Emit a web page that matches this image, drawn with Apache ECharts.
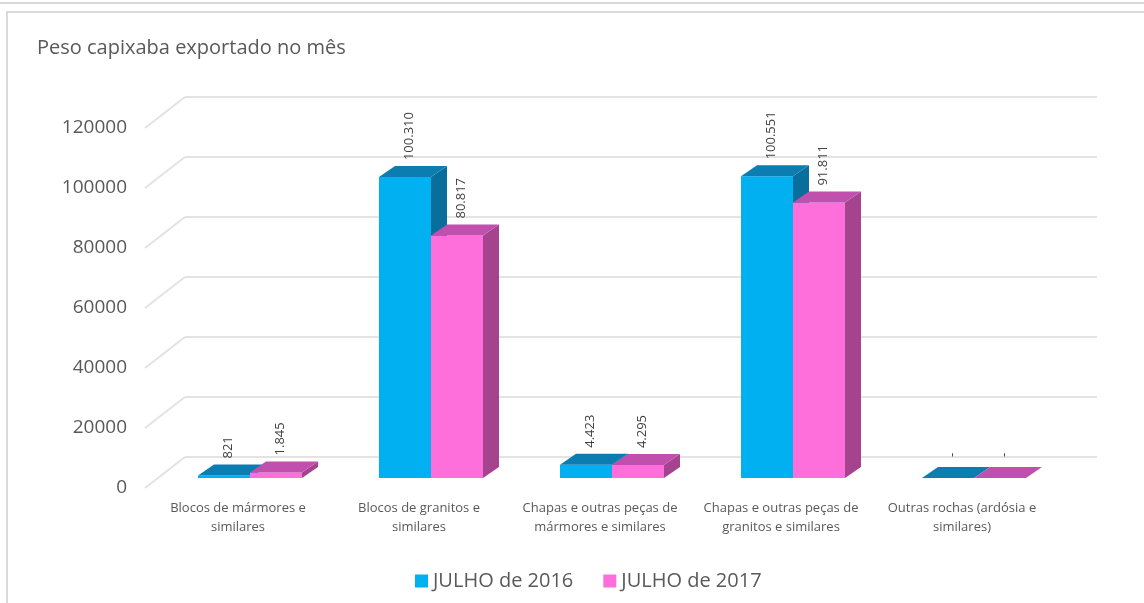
<!DOCTYPE html>
<html>
<head>
<meta charset="utf-8">
<script src="https://cdn.jsdelivr.net/npm/echarts@6/dist/echarts.min.js"></script>
<style>
  html, body { margin: 0; padding: 0; background: #fff; }
  #chart { width: 1144px; height: 603px; }
</style>
</head>
<body>
<div id="chart"></div>
<script>
// dados
const categories = [
  'Blocos de mármores e\nsimilares',
  'Blocos de granitos e\nsimilares',
  'Chapas e outras peças de\nmármores e similares',
  'Chapas e outras peças de\ngranitos e similares',
  'Outras rochas (ardósia e\nsimilares)'
]
const seriesNames = ['JULHO de 2016', 'JULHO de 2017']
const julho2016 = [821, 100310, 4423, 100551, 0]
const julho2017 = [1845, 80817, 4295, 91811, 0]
const yMax = 120000
const yStep = 20000
const yTicks = [0, 20000, 40000, 60000, 80000, 100000, 120000]

// cores
const frontColors = ['#00B0F0', '#FF6FDC']
const topColors = ['#0B7DB1', '#C04FAE']
const sideColors = ['#096E9C', '#A5438F']

const FONT = "'Open Sans', 'Noto Sans', sans-serif"
const BAR_RATIO = 52 / 181
const DX = 16, DY = -11        // profundidade das barras
const WALL_DX = 40, WALL_DY = 31 // profundidade do piso/parede

// 100310 -> "100.310", 0 -> "-"
const fmt = (v) => {
  if (!v) return '-'
  return String(v).replace(/\B(?=(\d{3})+(?!\d))/g, '.')
}

const chart = echarts.init(document.getElementById('chart'))

const renderBar = (idx) => (params, api) => {
  const cat = api.value(0)
  const val = api.value(1)
  const base = api.coord([cat, 0])
  const top = api.coord([cat, val])
  const bw = api.size([1, 0])[0] * BAR_RATIO
  const x0 = idx === 0 ? base[0] - bw : base[0]
  const x1 = x0 + bw
  const y0 = base[1]
  const y1 = top[1]
  return {
    type: 'group',
    children: [
      {
        type: 'rect',
        shape: { x: x0, y: y1, width: bw, height: y0 - y1 },
        style: { fill: frontColors[idx] }
      },
      {
        type: 'polygon',
        shape: { points: [[x1, y0], [x1 + DX, y0 + DY], [x1 + DX, y1 + DY], [x1, y1]] },
        style: { fill: sideColors[idx] }
      },
      {
        type: 'polygon',
        shape: { points: [[x0, y1], [x1, y1], [x1 + DX, y1 + DY], [x0 + DX, y1 + DY]] },
        style: { fill: topColors[idx] }
      },
      {
        type: 'text',
        x: x0 + bw / 2 + 4,
        y: y1 + DY - 6 - (val ? 0 : 4),
        rotation: Math.PI / 2,
        style: {
          text: fmt(val),
          fill: '#404040',
          font: '13px ' + FONT,
          align: 'left',
          verticalAlign: 'middle'
        }
      }
    ]
  }
}

const renderDiagonal = (params, api) => {
  const p = api.coord([0, api.value(0)])
  const x = params.coordSys.x
  return {
    type: 'line',
    shape: { x1: x, y1: p[1], x2: x - WALL_DX, y2: p[1] + WALL_DY },
    style: { stroke: '#e3e3e3', lineWidth: 2 }
  }
}

chart.setOption({
  animation: false,
  backgroundColor: '#fff',
  title: {
    text: 'Peso capixaba exportado no mês',
    left: 37,
    top: 38,
    padding: 0,
    textStyle: { fontFamily: FONT, fontSize: 20, fontWeight: 'normal', color: '#595959' }
  },
  legend: {
    data: seriesNames,
    left: 410,
    top: 566,
    icon: 'rect',
    itemWidth: 13,
    itemHeight: 13,
    itemGap: 30,
    textStyle: { fontFamily: FONT, fontSize: 20, color: '#595959' }
  },
  graphic: [
    {
      type: 'line',
      shape: { x1: 0, y1: 3, x2: 1144, y2: 3 },
      style: { stroke: '#d9d9d9', lineWidth: 2 }
    },
    {
      type: 'rect',
      shape: { x: 7, y: 12, width: 1200, height: 700 },
      style: { fill: null, stroke: '#d9d9d9', lineWidth: 2 }
    }
  ],
  grid: [
    // barras
    { left: 159.5, right: 79.5, top: 118, height: 360 },
    // parede do fundo
    { left: 185, right: 47, top: 97, height: 360 },
    // rótulos do eixo
    { left: 145, right: 47, top: 128, height: 360 }
  ],
  xAxis: [
    {
      gridIndex: 0,
      type: 'category',
      data: categories,
      axisLine: { show: false },
      axisTick: { show: false },
      axisLabel: {
        margin: 21,
        interval: 0,
        fontFamily: FONT,
        fontSize: 13,
        lineHeight: 19,
        color: '#595959',
        padding: [0, 24, 0, 0]
      }
    },
    { gridIndex: 1, type: 'value', show: false },
    { gridIndex: 2, type: 'value', show: false }
  ],
  yAxis: [
    { gridIndex: 0, type: 'value', min: 0, max: yMax, interval: yStep, show: false },
    {
      gridIndex: 1,
      type: 'value',
      min: 0,
      max: yMax,
      interval: yStep,
      axisLine: { show: false },
      axisTick: { show: false },
      axisLabel: { show: false },
      splitLine: { lineStyle: { color: '#e3e3e3', width: 2 } }
    },
    {
      gridIndex: 2,
      type: 'value',
      min: 0,
      max: yMax,
      interval: yStep,
      axisLine: { show: false },
      axisTick: { show: false },
      splitLine: { show: false },
      axisLabel: {
        margin: 18,
        fontFamily: FONT,
        fontSize: 19,
        color: '#595959',
        formatter: (v) => String(v)
      }
    }
  ],
  series: [
    {
      type: 'custom',
      name: 'parede',
      xAxisIndex: 1,
      yAxisIndex: 1,
      silent: true,
      data: yTicks.map(v => [v]),
      encode: { y: 0 },
      renderItem: renderDiagonal
    },
    {
      type: 'custom',
      name: seriesNames[0],
      xAxisIndex: 0,
      yAxisIndex: 0,
      itemStyle: { color: frontColors[0] },
      data: julho2016.map((v, i) => [i, v]),
      encode: { x: 0, y: 1 },
      renderItem: renderBar(0)
    },
    {
      type: 'custom',
      name: seriesNames[1],
      xAxisIndex: 0,
      yAxisIndex: 0,
      itemStyle: { color: frontColors[1] },
      data: julho2017.map((v, i) => [i, v]),
      encode: { x: 0, y: 1 },
      renderItem: renderBar(1)
    }
  ]
})

window.addEventListener('resize', () => chart.resize())
</script>
</body>
</html>
